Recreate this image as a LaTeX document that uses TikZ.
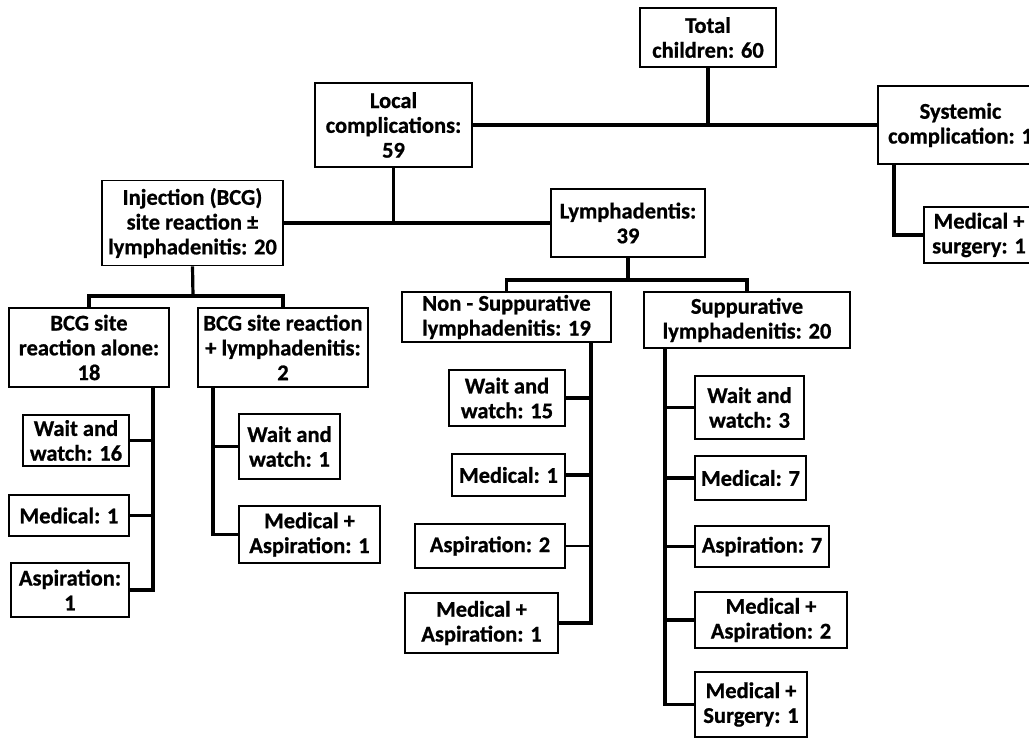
\documentclass[tikz,border=0pt]{standalone}
\usepackage{fontspec}
\setmainfont{Carlito}[BoldFeatures={FakeBold=0.8}]
\begin{document}
\begin{tikzpicture}[x=1pt,y=-1pt,
  box/.style={draw, line width=1.8pt, align=center, inner sep=0pt,
    font=\fontsize{22.5}{24.8}\selectfont\bfseries},
  conn/.style={line width=3.2pt},
  connthin/.style={line width=1.3pt}]
\useasboundingbox (0,0) rectangle (1029,738);
\fill[white] (0,0) rectangle (1029,738);
\clip (0,0) rectangle (1029,738);
% top level
\node[box, minimum width=136pt, minimum height=59pt] (tot) at (708,37.5) {Total\\children: 60};
\node[box, minimum width=157pt, minimum height=84pt] (loc) at (393.5,125) {Local\\complications:\\59};
\node[box, minimum width=165pt, minimum height=78pt] (sys) at (960.5,125) {Systemic\\complication: 1};
\node[box, minimum width=110pt, minimum height=56pt] (mss) at (979,235) {Medical +\\surgery: 1};
% second level
\node[box, minimum width=181pt, minimum height=85pt] (inj) at (192.5,223) {Injection (BCG)\\site reaction ±\\lymphadenitis: 20};
\node[box, minimum width=154pt, minimum height=68pt] (lym) at (628,223) {Lymphadentis:\\39};
% BCG branch
\node[box, minimum width=160pt, minimum height=79pt] (bca) at (89,347.5) {BCG site\\reaction alone:\\18};
\node[box, minimum width=170pt, minimum height=79pt] (bcl) at (283,347.5) {BCG site reaction\\+ lymphadenitis:\\2};
\node[box, minimum width=106pt, minimum height=51pt] (w16) at (76,440.5) {Wait and\\watch: 16};
\node[box, minimum width=120pt, minimum height=41pt] (m1a) at (69,515.5) {Medical: 1};
\node[box, minimum width=118pt, minimum height=54pt] (a1) at (70,590) {Aspiration:\\1};
\node[box, minimum width=101pt, minimum height=65pt] (w1) at (289.5,446.5) {Wait and\\watch: 1};
\node[box, minimum width=141pt, minimum height=57pt] (ma1) at (309.5,534.5) {Medical +\\Aspiration: 1};
% lymphadenitis branch
\node[box, minimum width=209pt, minimum height=50pt] (ns) at (506.5,317) {Non - Suppurative\\lymphadenitis: 19};
\node[box, minimum width=206pt, minimum height=56pt] (sp) at (747,320) {Suppurative\\lymphadenitis: 20};
\node[box, minimum width=116pt, minimum height=56pt] (w15) at (507,398) {Wait and\\watch: 15};
\node[box, minimum width=113pt, minimum height=42pt] (m1b) at (508.5,475) {Medical: 1};
\node[box, minimum width=150pt, minimum height=44pt] (a2) at (490,546) {Aspiration: 2};
\node[box, minimum width=153pt, minimum height=60pt] (ma1b) at (481.5,623) {Medical +\\Aspiration: 1};
\node[box, minimum width=109pt, minimum height=63pt] (w3) at (749.5,407.5) {Wait and\\watch: 3};
\node[box, minimum width=111pt, minimum height=44pt] (m7) at (750.5,478) {Medical: 7};
\node[box, minimum width=134pt, minimum height=41pt] (a7) at (762,546.5) {Aspiration: 7};
\node[box, minimum width=152pt, minimum height=56pt] (ma2) at (771,620) {Medical +\\Aspiration: 2};
\node[box, minimum width=112pt, minimum height=65pt] (ms1) at (751,704.5) {Medical +\\Surgery: 1};
% helper coordinates
\coordinate (j2) at (193,296);
\coordinate (j3) at (628,280);
\coordinate (v1) at (153,0);
\coordinate (v2) at (213,0);
\coordinate (v3) at (591,0);
\coordinate (v4) at (665,0);
\coordinate (v5) at (894,0);
% connectors
\draw[conn] (loc.east) -- (sys.west);
\draw[conn] (tot.south) -- (tot.south |- loc.east);
\draw[conn] (inj.east) -- (lym.west);
\draw[conn] (loc.south) -- (loc.south |- inj.east);
\draw[conn] (sys.south -| v5) |- (mss.west);
\draw[conn] (inj.south) -- (j2);
\draw[conn] (bca.north) |- (j2) -| (bcl.north);
\draw[conn] (bca.south -| v1) |- (a1.east);
\draw[conn] (w16.east) -- (w16.east -| v1);
\draw[conn] (m1a.east) -- (m1a.east -| v1);
\draw[conn] (bcl.south -| v2) |- (ma1.west);
\draw[conn] (w1.west) -- (w1.west -| v2);
\draw[conn] (lym.south) -- (j3);
\draw[conn] (ns.north) |- (j3) -| (sp.north);
\draw[conn] (ns.south -| v3) |- (ma1b.east);
\draw[conn] (w15.east) -- (w15.east -| v3);
\draw[conn] (m1b.east) -- (m1b.east -| v3);
\draw[connthin] (a2.east) -- (a2.east -| v3);
\draw[conn] (sp.south -| v4) |- (ms1.west);
\draw[conn] (w3.west) -- (w3.west -| v4);
\draw[conn] (m7.west) -- (m7.west -| v4);
\draw[conn] (a7.west) -- (a7.west -| v4);
\draw[conn] (ma2.west) -- (ma2.west -| v4);
\end{tikzpicture}
\end{document}
